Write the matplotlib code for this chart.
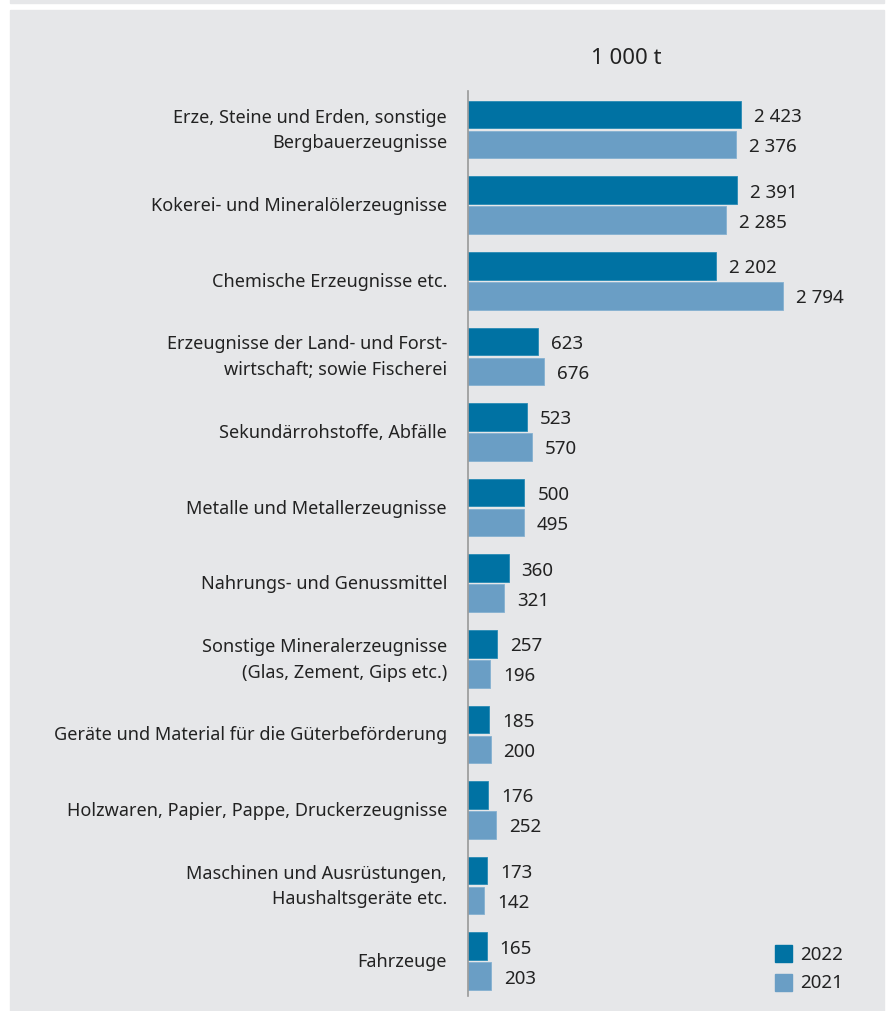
import matplotlib
matplotlib.use("Agg")
import matplotlib.pyplot as plt
from matplotlib.patches import Rectangle

categories = [
    "Erze, Steine und Erden, sonstige\nBergbauerzeugnisse",
    "Kokerei- und Mineralölerzeugnisse",
    "Chemische Erzeugnisse etc.",
    "Erzeugnisse der Land- und Forst-\nwirtschaft; sowie Fischerei",
    "Sekundärrohstoffe, Abfälle",
    "Metalle und Metallerzeugnisse",
    "Nahrungs- und Genussmittel",
    "Sonstige Mineralerzeugnisse\n(Glas, Zement, Gips etc.)",
    "Geräte und Material für die Güterbeförderung",
    "Holzwaren, Papier, Pappe, Druckerzeugnisse",
    "Maschinen und Ausrüstungen,\nHaushaltsgeräte etc.",
    "Fahrzeuge",
]
values_2022 = [2423, 2391, 2202, 623, 523, 500, 360, 257, 185, 176, 173, 165]
values_2021 = [2376, 2285, 2794, 676, 570, 495, 321, 196, 200, 252, 142, 203]
series_labels = ["2022", "2021"]
unit_label = "1 000 t"

W, H = 891, 1012
plt.rcParams["font.family"] = ["Noto Sans", "DejaVu Sans"]
fig = plt.figure(figsize=(W / 100, H / 100), dpi=100, facecolor="white")

bg = "#e6e7e9"
dark = "#0072a3"
light = "#6a9ec5"
txt = "#222222"
FS = 13
FSV = 13.5

# panel backgrounds
fig.patches.append(Rectangle((10 / W, 0), (884 - 10) / W, 1 - 11 / H,
                             transform=fig.transFigure, color=bg, zorder=-10))
fig.patches.append(Rectangle((10 / W, 1 - 4 / H), (884 - 10) / W, 4 / H,
                             transform=fig.transFigure, color=bg, zorder=-10))

ax_left, ax_right = 468, 868
ax_top, ax_bot = 92, 997
ax = fig.add_axes([ax_left / W, 1 - ax_bot / H, (ax_right - ax_left) / W, (ax_bot - ax_top) / H])
ax.set_facecolor("none")
ax.set_zorder(5)

pitch = 75.6
first = 130.5
ax.set_ylim((ax_bot - first) / pitch, (ax_top - first) / pitch)
xmax = (ax_right - ax_left) / 0.1127
ax.set_xlim(0, xmax)

n = len(categories)
ys = list(range(n))
bh = 27.6 / pitch
off = 15.0 / pitch

def fmt(v):
    return f"{v:,}".replace(",", " ")

ax.barh([y - off for y in ys], values_2022, height=bh, color=dark, edgecolor="#2a8bb5", linewidth=0.6)
ax.barh([y + off for y in ys], values_2021, height=bh, color=light, edgecolor="#85b1d1", linewidth=0.6)

for y, v in zip(ys, values_2022):
    ax.annotate(fmt(v), (v, y - off), xytext=(13, -1.5), textcoords="offset pixels",
                va="center", ha="left", fontsize=FSV, color=txt, annotation_clip=False)
for y, v in zip(ys, values_2021):
    ax.annotate(fmt(v), (v, y + off), xytext=(13, -1.5), textcoords="offset pixels",
                va="center", ha="left", fontsize=FSV, color=txt, annotation_clip=False)

for y, c in zip(ys, categories):
    ax.annotate(c, (0, y), xytext=(-21, 0), textcoords="offset pixels",
                va="center", ha="right", fontsize=FS, color=txt, linespacing=1.55,
                annotation_clip=False)

for s in ["top", "right", "bottom"]:
    ax.spines[s].set_visible(False)
ax.spines["left"].set_color("#999999")
ax.spines["left"].set_linewidth(1.2)
ax.set_xticks([])
ax.set_yticks([])

fig.text(626 / W, 1 - 58 / H, unit_label, ha="center", va="center", fontsize=16, color=txt)

# legend
for i, (lab, col) in enumerate(zip(series_labels, [dark, light])):
    yc = 954.5 + i * 28.5
    fig.patches.append(Rectangle((775 / W, 1 - (yc + 8.5) / H), 17 / W, 17 / H,
                                 transform=fig.transFigure, color=col, zorder=2))
    fig.text(800 / W, 1 - yc / H, lab, ha="left", va="center", fontsize=FSV, color=txt)

fig.savefig("out.png", dpi=100, facecolor="white")
